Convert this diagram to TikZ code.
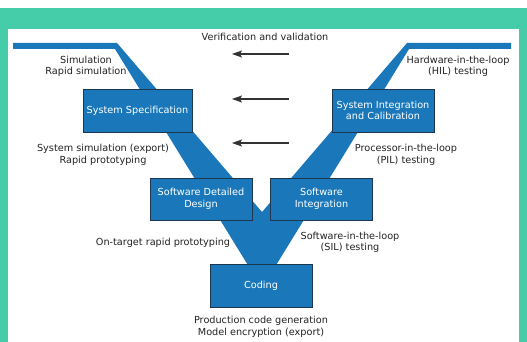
\documentclass[tikz,border=0pt]{standalone}
\usepackage{fontspec}
\setmainfont{DejaVu Sans}
\usetikzlibrary{arrows.meta}

\definecolor{vblue}{RGB}{26,120,186}
\definecolor{vframe}{RGB}{69,204,168}
\definecolor{vedge}{RGB}{30,55,80}
\definecolor{vtext}{RGB}{35,35,35}

\tikzset{
  stage/.style={draw=vedge, line width=0.8pt, fill=vblue, text=white, align=center,
    minimum width=102pt, minimum height=43pt, inner sep=1pt},
  note/.style={text=vtext, align=center, inner sep=0pt},
  checkarrow/.style={-{Stealth[length=10pt,width=7pt,inset=2pt]}, line width=1.1pt, draw=black!80}
}

\begin{document}
\begin{tikzpicture}[x=1pt, y=-1pt, font=\fontsize{9.7}{11.6}\selectfont]

  % Page and green frame
  \useasboundingbox (0,0) rectangle (527,342);
  \fill[white] (0,0) rectangle (527,342);
  \fill[vframe] (0,8) rectangle (527,342);
  \fill[white] (8,29) rectangle (519,342);

  % The V band, left arm and right arm
  \fill[vblue] (13,43) -- (117,43) -- (262,212) -- (407,43) -- (511,43)
    -- (511,49) -- (409,49) -- (262,288) -- (115,49) -- (13,49) -- cycle;

  % Stages of the V
  \node[stage, minimum width=109pt] (spec) at (137.5,110.5) {System Specification};
  \node[stage] (integ) at (383,110.5) {System Integration\\and Calibration};
  \node[stage, minimum height=42pt] (design) at (201,199) {Software Detailed\\Design};
  \node[stage, minimum height=42pt] (swint) at (321.5,199) {Software\\Integration};
  \node[stage] (coding) at (261,285.5) {Coding};

  % Verification and validation arrows
  \node[note] (verif) at (265,37) {Verification and validation};
  \coordinate (v1r) at (289,54);
  \coordinate (v1l) at (232,54);
  \coordinate (v2r) at (289,99);
  \coordinate (v2l) at (232,99);
  \coordinate (v3r) at (289,143);
  \coordinate (v3l) at (232,143);
  \draw[checkarrow] (v1r) -- (v1l);
  \draw[checkarrow] (v2r) -- (v2l);
  \draw[checkarrow] (v3r) -- (v3l);

  % Notes on the left arm
  \node[note] (simul) at (86,66.5) {Simulation\\Rapid simulation};
  \node[note] (syssim) at (103,155) {System simulation (export)\\Rapid prototyping};
  \node[note] (target) at (163,243) {On-target rapid prototyping};

  % Notes on the right arm
  \node[note] (hil) at (458,66.5) {Hardware-in-the-loop\\(HIL) testing};
  \node[note] (pil) at (406,155) {Processor-in-the-loop\\(PIL) testing};
  \node[note] (sil) at (350,242.5) {Software-in-the-loop\\(SIL) testing};

  % Note under the coding stage
  \node[note] (prod) at (261,327) {Production code generation\\Model encryption (export)};

\end{tikzpicture}
\end{document}
